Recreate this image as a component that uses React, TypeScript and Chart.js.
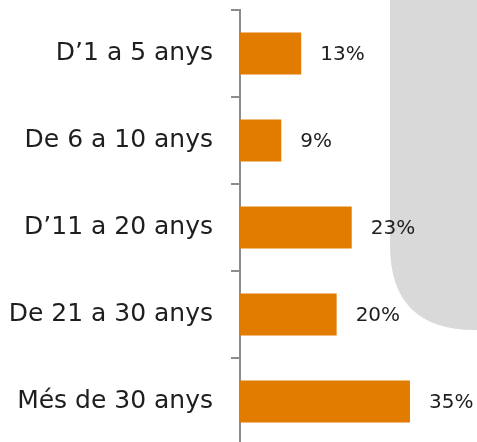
import React, { useEffect, useRef } from "react";
import { Chart, registerables } from "chart.js";

Chart.register(...registerables);

const categories = ["D\u20191 a 5 anys", "De 6 a 10 anys", "D\u201911 a 20 anys", "De 21 a 30 anys", "Més de 30 anys"];
const values = [12.6, 8.5, 23, 19.9, 35];
const valueLabels = ["13%", "9%", "23%", "20%", "35%"];

const BAR_COLOR = "#E17C00";
const AXIS_COLOR = "#8c8c8c";
const TEXT_COLOR = "#1e1e1e";

const backgroundShape = {
  id: "backgroundShape",
  beforeDraw(chart: any) {
    const ctx = chart.ctx;
    const left = 390;
    const right = chart.width;
    const bottom = 330;
    const r = 85;
    ctx.save();
    ctx.fillStyle = "#D9D9D9";
    ctx.beginPath();
    ctx.moveTo(left, 0);
    ctx.lineTo(right, 0);
    ctx.lineTo(right, bottom);
    ctx.lineTo(left + r, bottom);
    ctx.quadraticCurveTo(left, bottom, left, bottom - r);
    ctx.closePath();
    ctx.fill();
    ctx.restore();
  },
};

const valueLabelPlugin = {
  id: "valueLabels",
  afterDatasetsDraw(chart: any) {
    const ctx = chart.ctx;
    const meta = chart.getDatasetMeta(0);
    ctx.save();
    ctx.fillStyle = TEXT_COLOR;
    ctx.font = "20px 'DejaVu Sans'";
    ctx.textAlign = "left";
    ctx.textBaseline = "middle";
    meta.data.forEach((bar: any, i: number) => {
      ctx.fillText(valueLabels[i], bar.x + 19, bar.y + 1);
    });
    ctx.restore();
  },
};

export default function App() {
  const ref = useRef<HTMLCanvasElement>(null);
  useEffect(() => {
    if (!ref.current) return;
    const chart = new Chart(ref.current, {
      type: "bar",
      data: {
        labels: categories,
        datasets: [
          {
            data: values,
            backgroundColor: BAR_COLOR,
            borderWidth: 0,
            categoryPercentage: 1,
            barPercentage: 0.483,
          },
        ],
      },
      options: {
        indexAxis: "y",
        responsive: false,
        animation: false,
        layout: { padding: { top: 10, bottom: 7, left: 0, right: 0 } },
        plugins: { legend: { display: false }, tooltip: { enabled: false } },
        scales: {
          x: { display: false, min: 0, max: 48.8 },
          y: {
            afterFit: (scale: any) => {
              scale.width = 240;
              scale.paddingTop = 0;
              scale.paddingBottom = 0;
            },
            grid: {
              display: true,
              drawOnChartArea: false,
              drawTicks: true,
              tickLength: 9,
              color: AXIS_COLOR,
              lineWidth: 2,
              offset: true,
            },
            border: { display: true, color: AXIS_COLOR, width: 2 },
            ticks: {
              autoSkip: false,
              padding: 18,
              color: TEXT_COLOR,
              font: { family: "'DejaVu Sans'", size: 25 },
            },
          },
        },
      },
      plugins: [backgroundShape, valueLabelPlugin],
    });
    return () => chart.destroy();
  }, []);
  return (
    <div style={{ position: "absolute", top: 0, left: 0, width: 477, height: 442, overflow: "hidden", background: "#fff" }}>
      <canvas ref={ref} width={477} height={452} style={{ display: "block" }} />
    </div>
  );
}
